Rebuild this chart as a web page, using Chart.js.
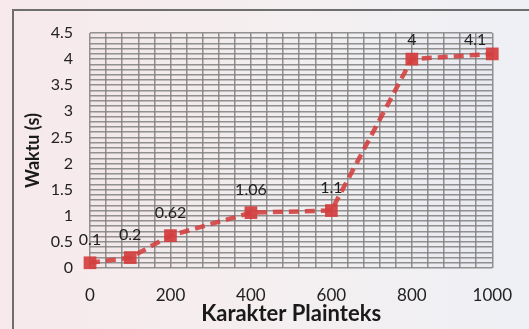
<!DOCTYPE html>
<html>
<head>
<meta charset="utf-8">
<script src="https://cdn.jsdelivr.net/npm/chart.js@4/dist/chart.umd.min.js"></script>
<style>
  html, body { margin: 0; padding: 0; background: #f6f1f2; }
  #wrap { width: 529px; height: 329px; position: relative; }
</style>
</head>
<body>
<div id="wrap"><canvas id="c" width="529" height="329"></canvas></div>
<script>
// Encryption time per plaintext length
const karakter = [0, 100, 200, 400, 600, 800, 1000];
const waktu = [0.1, 0.2, 0.62, 1.06, 1.1, 4, 4.1];
const labelTeks = ['0.1', '0.2', '0.62', '1.06', '1.1', '4', '4.1'];

const FONT = 'Lato, "Liberation Sans", sans-serif';

// Page background, plot background and the outer frame
const backdrop = {
  id: 'backdrop',
  beforeDraw(chart) {
    const { ctx, width, height, chartArea: a } = chart;
    ctx.save();
    const g = ctx.createLinearGradient(0, 0, width, 0);
    g.addColorStop(0, '#f7e9eb');
    g.addColorStop(0.55, '#f4eff0');
    g.addColorStop(1, '#eef0f5');
    ctx.fillStyle = g;
    ctx.fillRect(0, 0, width, height);
    const p = ctx.createLinearGradient(a.left, 0, a.right, 0);
    p.addColorStop(0, '#f3e8e9');
    p.addColorStop(0.6, '#f1eff0');
    p.addColorStop(1, '#e9eaf1');
    ctx.fillStyle = p;
    ctx.fillRect(a.left, a.top, a.right - a.left, a.bottom - a.top);
    ctx.strokeStyle = '#6e6e6e';
    ctx.lineWidth = 2;
    ctx.beginPath();
    ctx.moveTo(width, 10);
    ctx.lineTo(13, 10);
    ctx.lineTo(13, height);
    ctx.stroke();
    ctx.restore();
  }
};

// Value labels above each point, kept inside the plot area
const nilaiLabel = {
  id: 'nilaiLabel',
  afterDatasetsDraw(chart) {
    const { ctx, chartArea: a } = chart;
    const meta = chart.getDatasetMeta(0);
    ctx.save();
    ctx.font = '16px ' + FONT;
    ctx.fillStyle = '#1e1e1e';
    ctx.textAlign = 'center';
    ctx.textBaseline = 'middle';
    meta.data.forEach((pt, i) => {
      const w = ctx.measureText(labelTeks[i]).width;
      const cx = Math.min(pt.x, a.right - w / 2 - 6);
      const cy = Math.max(pt.y - 23, a.top + 7);
      ctx.fillText(labelTeks[i], cx, cy);
    });
    ctx.restore();
  }
};

new Chart(document.getElementById('c'), {
  type: 'line',
  data: {
    datasets: [{
      data: karakter.map((x, i) => ({ x, y: waktu[i] })),
      borderColor: 'rgba(212,62,62,0.88)',
      backgroundColor: 'rgba(212,62,62,0.92)',
      borderWidth: 4.5,
      borderDash: [10, 6],
      pointStyle: 'rect',
      pointRadius: 9,
      pointBorderWidth: 0,
      tension: 0,
      clip: false
    }]
  },
  options: {
    responsive: false,
    animation: false,
    layout: { padding: { left: 22, right: 27, top: 33, bottom: 0 } },
    plugins: { legend: { display: false }, tooltip: { enabled: false } },
    scales: {
      x: {
        type: 'linear',
        min: 0, max: 1000,
        afterFit(s) { s.height = 61; },
        grid: { color: 'rgba(128,128,128,0.85)', lineWidth: 1.5, drawTicks: false },
        border: { display: false },
        ticks: {
          stepSize: 40, autoSkip: false, maxRotation: 0, padding: 17,
          color: '#222', font: { size: 17, family: FONT },
          callback: v => (Math.round(v) % 200 === 0 ? String(Math.round(v)) : '')
        },
        title: {
          display: true, text: 'Karakter Plainteks', color: '#1a1a1a',
          font: { size: 22, weight: 'bold', family: FONT },
          padding: { top: 0, bottom: 2 }
        }
      },
      y: {
        min: 0, max: 4.5,
        afterFit(s) { s.width = 68; },
        grid: { color: 'rgba(128,128,128,0.85)', lineWidth: 1.5, drawTicks: false },
        border: { display: false },
        ticks: {
          stepSize: 0.1, autoSkip: false, padding: 17,
          color: '#222', font: { size: 16, family: FONT },
          callback: v => {
            const t = Math.round(v * 10);
            return t % 5 === 0 ? String(t / 10) : '';
          }
        },
        title: {
          display: true, text: 'Waktu (s)', color: '#1a1a1a',
          font: { size: 18, weight: 'bold', family: FONT },
          padding: 0
        }
      }
    }
  },
  plugins: [backdrop, nilaiLabel]
});
</script>
</body>
</html>
